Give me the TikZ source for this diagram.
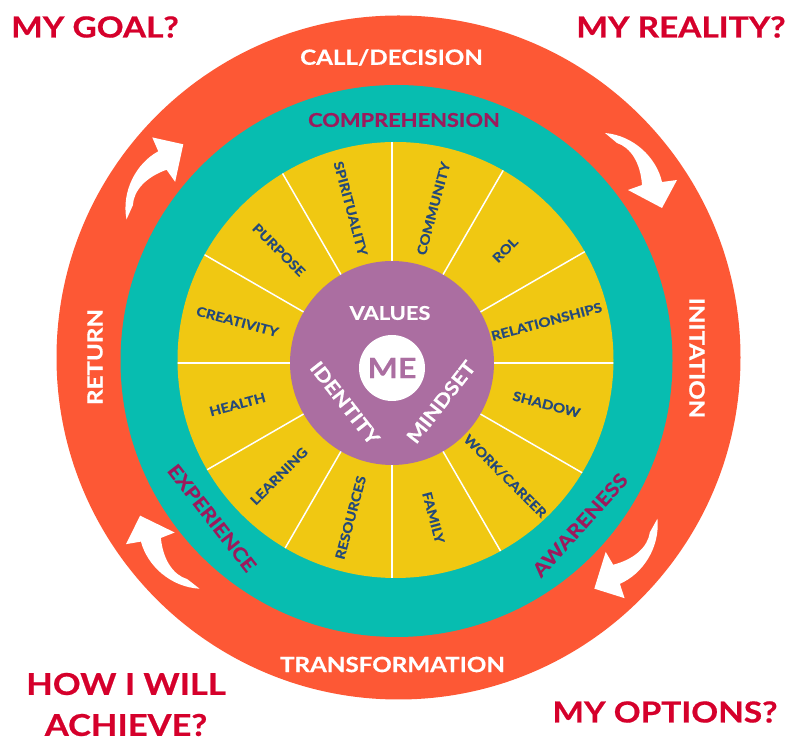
\documentclass[tikz,border=0pt]{standalone}
\usepackage{fontspec}
\setmainfont{Lato}[FakeStretch=1.15, BoldFeatures={FakeBold=0.6}]
\usepackage{xcolor}
\usepackage{tikz}
\usetikzlibrary{positioning,calc}

\definecolor{ringorange}{HTML}{FD5835}
\definecolor{ringteal}{HTML}{07BDB0}
\definecolor{wheelyellow}{HTML}{F0C812}
\definecolor{corepurple}{HTML}{AB6EA1}
\definecolor{areablue}{HTML}{24497A}
\definecolor{stagemag}{HTML}{9C1A5C}
\definecolor{askred}{HTML}{D5002B}

\begin{document}
\begin{tikzpicture}[x=1pt,y=1pt,
    question/.style={text=askred, font=\bfseries\fontsize{29}{30}\selectfont, align=center},
    stagelabel/.style={text=white, font=\bfseries\fontsize{21}{22}\selectfont},
    phaselabel/.style={text=stagemag, font=\bfseries\fontsize{19}{20}\selectfont},
    arealabel/.style={text=areablue, font=\bfseries\fontsize{13}{14}\selectfont},
    corelabel/.style={text=white, font=\bfseries\fontsize{19}{20}\selectfont}]
    \useasboundingbox (0,0) rectangle (796,747);

    % Rings
    \coordinate (o) at (398.5,389.5);
    \coordinate (t) at (396.5,386);
    \coordinate (y) at (395.5,387);
    \coordinate (c) at (392,384);
    \fill[ringorange] (o) circle (342);
    \fill[ringteal] (t) circle (276);
    \fill[wheelyellow] (y) circle (218);

    % Spokes
    \begin{scope}
        \clip (y) circle (218);
        \foreach \a in {0,30,...,330}
            \draw[white, line width=1.5pt] (c) -- ++(\a:240);
    \end{scope}

    % Core
    \fill[corepurple] (c) circle (102);
    \fill[white] (392,379) circle (33);
    \node[text=corepurple, font=\bfseries\fontsize{28}{28}\selectfont] (me) at (392,379) {ME};
    \node[corelabel] (values) at (390,434) {VALUES};
    \node[corelabel, rotate=-52] (identity) at (345,344) {IDENTITY};
    \node[corelabel, rotate=52] (mindset) at (441,345) {MINDSET};

    % Life areas
    \begin{scope}[shift={(c)}]
        \node[arealabel, rotate=15] (relationships) at (15:160) {RELATIONSHIPS};
        \node[arealabel, rotate=45] (rol) at (45:160) {ROL};
        \node[arealabel, rotate=75] (community) at (75:160) {COMMUNITY};
        \node[arealabel, rotate=-75] (spirituality) at (105:160) {SPIRITUALITY};
        \node[arealabel, rotate=-45] (purpose) at (135:160) {PURPOSE};
        \node[arealabel, rotate=-15] (creativity) at (165:160) {CREATIVITY};
        \node[arealabel, rotate=15] (health) at (195:160) {HEALTH};
        \node[arealabel, rotate=45] (learning) at (225:160) {LEARNING};
        \node[arealabel, rotate=75] (resources) at (255:160) {RESOURCES};
        \node[arealabel, rotate=-75] (family) at (285:160) {FAMILY};
        \node[arealabel, rotate=-45] (work) at (315:160) {WORK/CAREER};
        \node[arealabel, rotate=-15] (shadow) at (345:160) {SHADOW};
    \end{scope}

    % Teal ring labels
    \node[phaselabel] (comprehension) at (404,627) {COMPREHENSION};
    \node[phaselabel, rotate=-52] (experience) at (212,229) {EXPERIENCE};
    \node[phaselabel, rotate=48] (awareness) at (580,222) {AWARENESS};

    % Orange ring labels
    \node[stagelabel] (call) at (391.5,689.5) {CALL/DECISION};
    \node[stagelabel, rotate=-90] (initation) at (697,389) {INITATION};
    \node[stagelabel] (transformation) at (392.5,82.5) {TRANSFORMATION};
    \node[stagelabel, rotate=90] (return) at (95,390) {RETURN};

    % Arrows (one shape, turned round the rings)
    \foreach \r in {0,105.7,-79.3,181.9}
        \fill[white, shift={(o)}, rotate=\r] (206.5,224.5) .. controls (235,222) and (258,200) .. (263.5,175.5)
            -- (278.5,177.5) -- (263.5,149.5) -- (229.5,167.5) -- (243.5,172.5)
            .. controls (242,195) and (232,210) .. (218.5,214.5) -- cycle;

    % Questions
    \node[question] (goal) at (95,720) {MY GOAL?};
    \node[question] (reality) at (681,720) {MY REALITY?};
    \node[question, font=\bfseries\fontsize{30}{41}\selectfont] (achieve) at (126,42.5) {HOW I WILL\\ACHIEVE?};
    \node[question] (options) at (665,35) {MY OPTIONS?};
\end{tikzpicture}
\end{document}
